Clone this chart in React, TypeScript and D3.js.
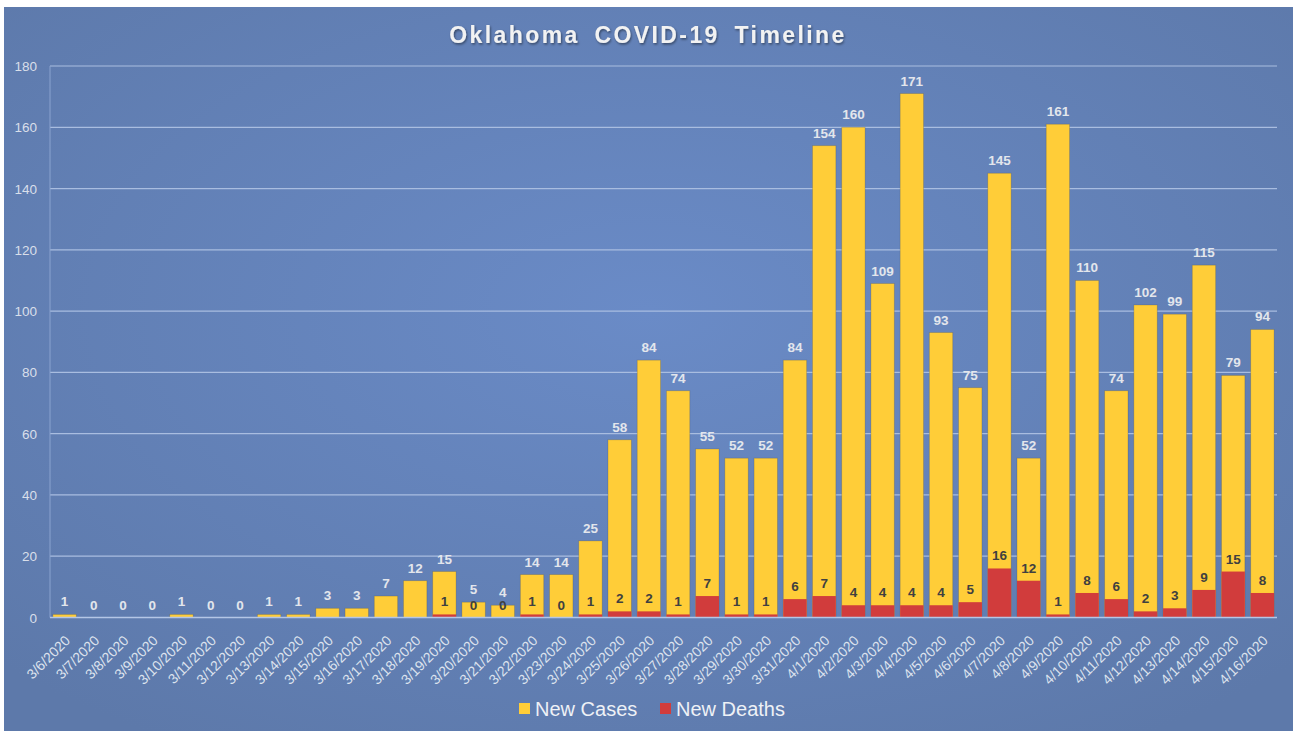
import React from 'react';
import * as d3 from 'd3';

const dates = [
  '3/6/2020', '3/7/2020', '3/8/2020', '3/9/2020', '3/10/2020', '3/11/2020', '3/12/2020',
  '3/13/2020', '3/14/2020', '3/15/2020', '3/16/2020', '3/17/2020', '3/18/2020', '3/19/2020',
  '3/20/2020', '3/21/2020', '3/22/2020', '3/23/2020', '3/24/2020', '3/25/2020', '3/26/2020',
  '3/27/2020', '3/28/2020', '3/29/2020', '3/30/2020', '3/31/2020', '4/1/2020', '4/2/2020',
  '4/3/2020', '4/4/2020', '4/5/2020', '4/6/2020', '4/7/2020', '4/8/2020', '4/9/2020',
  '4/10/2020', '4/11/2020', '4/12/2020', '4/13/2020', '4/14/2020', '4/15/2020', '4/16/2020',
];

const newCases = [
  1, 0, 0, 0, 1, 0, 0, 1, 1, 3, 3, 7, 12, 15, 5, 4, 14, 14, 25, 58, 84,
  74, 55, 52, 52, 84, 154, 160, 109, 171, 93, 75, 145, 52, 161, 110, 74, 102, 99, 115, 79, 94,
];

// no deaths reported before 3/19
const newDeaths: (number | null)[] = [
  null, null, null, null, null, null, null, null, null, null, null, null, null, 1,
  0, 0, 1, 0, 1, 2, 2, 1, 7, 1, 1, 6, 7, 4, 4, 4, 4, 5, 16, 12, 1, 8, 6, 2, 3, 9, 15, 8,
];

const yTicks = [0, 20, 40, 60, 80, 100, 120, 140, 160, 180];

const W = 1293;
const H = 731;
const plot = { left: 50, right: 1277, top: 66, bottom: 617.5 };
const font = '"Liberation Sans", Arial, sans-serif';
const caseColor = '#FFCD38';
const deathColor = '#D13C3C';

export default function App() {
  const x = d3.scaleBand<string>().domain(dates).range([plot.left, plot.right]).paddingInner(0.2).paddingOuter(0.1);
  const y = d3.scaleLinear().domain([0, 180]).range([plot.bottom, plot.top]);
  const bw = x.bandwidth();

  return (
    <svg width={W} height={H} style={{ position: 'absolute', left: 0, top: 0 }} fontFamily={font}>
      <defs>
        <radialGradient id="bg" cx="0.5" cy="0.42" r="0.7">
          <stop offset="0" stopColor="#6a8bc7" />
          <stop offset="1" stopColor="#5d79aa" />
        </radialGradient>
        <filter id="shadow" x="-10%" y="-30%" width="120%" height="160%">
          <feDropShadow dx="1" dy="1.5" stdDeviation="1.2" floodColor="#000" floodOpacity="0.45" />
        </filter>
      </defs>
      <rect x={0} y={0} width={W} height={H} fill="#fff" />
      <rect x={4} y={7} width={W - 4} height={H - 7} fill="url(#bg)" />

      <text x={648} y={43} textAnchor="middle" fontSize={23} fontWeight="bold" fill="#f2f2f2"
        letterSpacing={2.4} wordSpacing={6} filter="url(#shadow)">
        Oklahoma COVID-19 Timeline
      </text>

      {yTicks.map(t => (
        <g key={t}>
          <line x1={plot.left} x2={plot.right} y1={y(t)} y2={y(t)} stroke="#a9bde0" strokeWidth={1.2} />
          <text x={37} y={y(t) + 5} textAnchor="end" fontSize={13.5} fill="#d9dfea">{t}</text>
        </g>
      ))}
      <line x1={plot.left} x2={plot.left} y1={plot.top} y2={plot.bottom} stroke="#8aa3cf" strokeWidth={1} />

      {dates.map((d, i) => (
        <rect key={'c' + d} x={x(d)} y={y(newCases[i])} width={bw} height={plot.bottom - y(newCases[i])}
          fill={caseColor} stroke="rgba(60,60,60,0.25)" strokeWidth={0.8} />
      ))}
      {dates.map((d, i) => newDeaths[i] == null ? null : (
        <rect key={'d' + d} x={x(d)} y={y(newDeaths[i] as number)} width={bw}
          height={plot.bottom - y(newDeaths[i] as number)} fill={deathColor} />
      ))}
      <line x1={plot.left} x2={plot.right} y1={plot.bottom} y2={plot.bottom} stroke="#b4c6e6" strokeWidth={1.4} />

      {dates.map((d, i) => (
        <text key={'lc' + d} x={(x(d) as number) + bw / 2} y={y(newCases[i]) - 8} textAnchor="middle"
          fontSize={13.5} fontWeight="bold" fill="#e3e6ec">{newCases[i]}</text>
      ))}
      {dates.map((d, i) => newDeaths[i] == null ? null : (
        <text key={'ld' + d} x={(x(d) as number) + bw / 2} y={y(newDeaths[i] as number) - 8} textAnchor="middle"
          fontSize={13.5} fontWeight="bold" fill="#404040">{newDeaths[i]}</text>
      ))}

      {dates.map(d => {
        const cx = (x(d) as number) + bw / 2 + 3;
        const cy = 638;
        return (
          <text key={'x' + d} x={cx} y={cy} dy="0.35em" textAnchor="end" fontSize={14} fill="#dde3ee"
            transform={`rotate(-45,${cx},${cy})`}>{d}</text>
        );
      })}

      <rect x={519} y={703} width={11} height={11} fill={caseColor} />
      <text x={535} y={716} fontSize={20} fill="#eef1f6">New Cases</text>
      <rect x={660} y={703} width={11} height={11} fill={deathColor} />
      <text x={676} y={716} fontSize={20} fill="#eef1f6">New Deaths</text>
    </svg>
  );
}
